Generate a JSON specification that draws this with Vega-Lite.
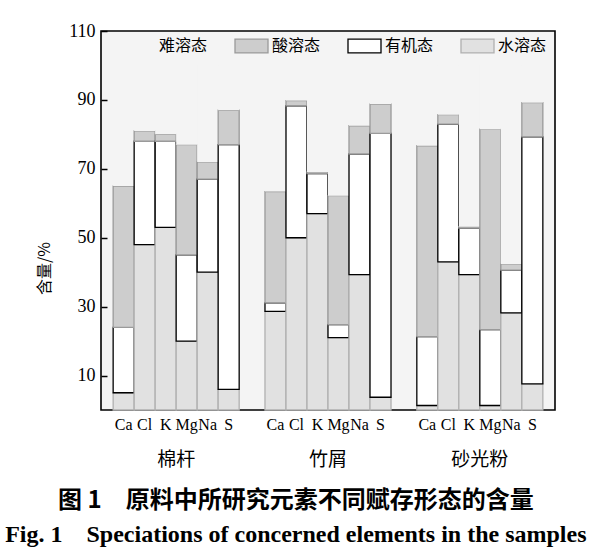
{
  "$schema": "https://vega.github.io/schema/vega-lite/v6.json",
  "width": 454,
  "height": 379,
  "autosize": "none",
  "padding": {"left": 101, "top": 31, "right": 45, "bottom": 149},
  "background": "white",
  "config": {
    "view": {"stroke": "black", "strokeWidth": 1.6, "fill": "#f4f4f4"},
    "axis": {"grid": false, "labelColor": "black", "titleColor": "black"}
  },
  "title": {
    "text": "图 1\u2003原料中所研究元素不同赋存形态的含量",
    "subtitle": "Fig. 1\u2003Speciations of concerned elements in the samples",
    "orient": "bottom",
    "anchor": "middle",
    "frame": "bounds",
    "offset": 20,
    "font": "Noto Sans CJK SC",
    "fontSize": 24,
    "fontWeight": "bold",
    "color": "black",
    "subtitleFont": "Liberation Serif",
    "subtitleFontSize": 24,
    "subtitleFontWeight": "bold",
    "subtitleColor": "black",
    "subtitlePadding": 10
  },
  "data": {
    "values": [
      {"sample": "棉杆", "element": "Ca", "form": "水溶态", "value": 5},
      {"sample": "棉杆", "element": "Ca", "form": "有机态", "value": 19},
      {"sample": "棉杆", "element": "Ca", "form": "酸溶态", "value": 41},
      {"sample": "棉杆", "element": "Ca", "form": "难溶态", "value": 35},
      {"sample": "棉杆", "element": "Cl", "form": "水溶态", "value": 48},
      {"sample": "棉杆", "element": "Cl", "form": "有机态", "value": 30},
      {"sample": "棉杆", "element": "Cl", "form": "酸溶态", "value": 3},
      {"sample": "棉杆", "element": "Cl", "form": "难溶态", "value": 19},
      {"sample": "棉杆", "element": "K", "form": "水溶态", "value": 53},
      {"sample": "棉杆", "element": "K", "form": "有机态", "value": 25},
      {"sample": "棉杆", "element": "K", "form": "酸溶态", "value": 2},
      {"sample": "棉杆", "element": "K", "form": "难溶态", "value": 20},
      {"sample": "棉杆", "element": "Mg", "form": "水溶态", "value": 20},
      {"sample": "棉杆", "element": "Mg", "form": "有机态", "value": 25},
      {"sample": "棉杆", "element": "Mg", "form": "酸溶态", "value": 32},
      {"sample": "棉杆", "element": "Mg", "form": "难溶态", "value": 23},
      {"sample": "棉杆", "element": "Na", "form": "水溶态", "value": 40},
      {"sample": "棉杆", "element": "Na", "form": "有机态", "value": 27},
      {"sample": "棉杆", "element": "Na", "form": "酸溶态", "value": 5},
      {"sample": "棉杆", "element": "Na", "form": "难溶态", "value": 28},
      {"sample": "棉杆", "element": "S", "form": "水溶态", "value": 6},
      {"sample": "棉杆", "element": "S", "form": "有机态", "value": 71},
      {"sample": "棉杆", "element": "S", "form": "酸溶态", "value": 10},
      {"sample": "棉杆", "element": "S", "form": "难溶态", "value": 13},
      {"sample": "竹屑", "element": "Ca", "form": "水溶态", "value": 28.6},
      {"sample": "竹屑", "element": "Ca", "form": "有机态", "value": 2.5},
      {"sample": "竹屑", "element": "Ca", "form": "酸溶态", "value": 32.3},
      {"sample": "竹屑", "element": "Ca", "form": "难溶态", "value": 36.6},
      {"sample": "竹屑", "element": "Cl", "form": "水溶态", "value": 50},
      {"sample": "竹屑", "element": "Cl", "form": "有机态", "value": 38.3},
      {"sample": "竹屑", "element": "Cl", "form": "酸溶态", "value": 1.5},
      {"sample": "竹屑", "element": "Cl", "form": "难溶态", "value": 10.2},
      {"sample": "竹屑", "element": "K", "form": "水溶态", "value": 57},
      {"sample": "竹屑", "element": "K", "form": "有机态", "value": 11.6},
      {"sample": "竹屑", "element": "K", "form": "酸溶态", "value": 0.5},
      {"sample": "竹屑", "element": "K", "form": "难溶态", "value": 30.9},
      {"sample": "竹屑", "element": "Mg", "form": "水溶态", "value": 21},
      {"sample": "竹屑", "element": "Mg", "form": "有机态", "value": 3.8},
      {"sample": "竹屑", "element": "Mg", "form": "酸溶态", "value": 37.4},
      {"sample": "竹屑", "element": "Mg", "form": "难溶态", "value": 37.8},
      {"sample": "竹屑", "element": "Na", "form": "水溶态", "value": 39.3},
      {"sample": "竹屑", "element": "Na", "form": "有机态", "value": 35},
      {"sample": "竹屑", "element": "Na", "form": "酸溶态", "value": 8.2},
      {"sample": "竹屑", "element": "Na", "form": "难溶态", "value": 17.5},
      {"sample": "竹屑", "element": "S", "form": "水溶态", "value": 3.7},
      {"sample": "竹屑", "element": "S", "form": "有机态", "value": 76.6},
      {"sample": "竹屑", "element": "S", "form": "酸溶态", "value": 8.5},
      {"sample": "竹屑", "element": "S", "form": "难溶态", "value": 11.2},
      {"sample": "砂光粉", "element": "Ca", "form": "水溶态", "value": 1.3},
      {"sample": "砂光粉", "element": "Ca", "form": "有机态", "value": 20},
      {"sample": "砂光粉", "element": "Ca", "form": "酸溶态", "value": 55.4},
      {"sample": "砂光粉", "element": "Ca", "form": "难溶态", "value": 23.3},
      {"sample": "砂光粉", "element": "Cl", "form": "水溶态", "value": 43},
      {"sample": "砂光粉", "element": "Cl", "form": "有机态", "value": 40},
      {"sample": "砂光粉", "element": "Cl", "form": "酸溶态", "value": 2.7},
      {"sample": "砂光粉", "element": "Cl", "form": "难溶态", "value": 14.3},
      {"sample": "砂光粉", "element": "K", "form": "水溶态", "value": 39.3},
      {"sample": "砂光粉", "element": "K", "form": "有机态", "value": 13.5},
      {"sample": "砂光粉", "element": "K", "form": "酸溶态", "value": 0.4},
      {"sample": "砂光粉", "element": "K", "form": "难溶态", "value": 46.8},
      {"sample": "砂光粉", "element": "Mg", "form": "水溶态", "value": 1.3},
      {"sample": "砂光粉", "element": "Mg", "form": "有机态", "value": 22},
      {"sample": "砂光粉", "element": "Mg", "form": "酸溶态", "value": 58.2},
      {"sample": "砂光粉", "element": "Mg", "form": "难溶态", "value": 18.5},
      {"sample": "砂光粉", "element": "Na", "form": "水溶态", "value": 28.2},
      {"sample": "砂光粉", "element": "Na", "form": "有机态", "value": 12.4},
      {"sample": "砂光粉", "element": "Na", "form": "酸溶态", "value": 1.8},
      {"sample": "砂光粉", "element": "Na", "form": "难溶态", "value": 57.6},
      {"sample": "砂光粉", "element": "S", "form": "水溶态", "value": 7.6},
      {"sample": "砂光粉", "element": "S", "form": "有机态", "value": 71.7},
      {"sample": "砂光粉", "element": "S", "form": "酸溶态", "value": 9.9},
      {"sample": "砂光粉", "element": "S", "form": "难溶态", "value": 10.8}
    ]
  },
  "transform": [
    {"calculate": "indexof(['水溶态','有机态','酸溶态','难溶态'], datum.form)", "as": "stackOrder"}
  ],
  "encoding": {
    "x": {
      "field": "sample",
      "type": "nominal",
      "sort": ["棉杆", "竹屑", "砂光粉"],
      "scale": {"paddingInner": 0.17, "paddingOuter": 0.08},
      "axis": {
        "title": null,
        "domain": false,
        "ticks": false,
        "labelAngle": 0,
        "labelPadding": 40,
        "labelFont": "Noto Sans CJK SC",
        "labelFontSize": 19
      }
    },
    "xOffset": {
      "field": "element",
      "type": "nominal",
      "sort": ["Ca", "Cl", "K", "Mg", "Na", "S"],
      "scale": {"paddingInner": 0, "paddingOuter": 0}
    }
  },
  "layer": [
    {
      "mark": {"type": "bar", "strokeWidth": 1.3},
      "encoding": {
        "y": {
          "field": "value",
          "type": "quantitative",
          "stack": "zero",
          "scale": {"domain": [0, 110], "nice": false},
          "axis": {
            "values": [10, 20, 30, 40, 50, 60, 70, 80, 90, 100, 110],
            "labelExpr": "datum.value % 20 == 10 ? datum.label : ''",
            "domain": false,
            "tickSize": -6,
            "tickWidth": 1.5,
            "tickColor": "black",
            "labelPadding": 12,
            "labelFont": "Liberation Serif",
            "labelFontSize": 18,
            "title": "含量/%",
            "titleFont": "Noto Sans CJK SC",
            "titleFontSize": 16,
            "titleFontWeight": "normal",
            "titlePadding": 16,
            "titleY": 237
          }
        },
        "fill": {
          "field": "form",
          "type": "nominal",
          "scale": {
            "domain": ["难溶态", "酸溶态", "有机态", "水溶态"],
            "range": ["#f4f4f4", "#cdcdcd", "#ffffff", "#e1e1e1"]
          },
          "legend": {
            "title": null,
            "orient": "none",
            "direction": "horizontal",
            "columns": 4,
            "legendX": 20,
            "legendY": -3,
            "symbolType": "M-1,-0.42H1V0.42H-1Z",
            "symbolSize": 1089,
            "symbolStrokeWidth": 1.3,
            "labelFont": "Noto Sans CJK SC",
            "labelFontSize": 16,
            "labelColor": "black",
            "labelOffset": 3,
            "columnPadding": 24
          }
        },
        "stroke": {
          "field": "form",
          "type": "nominal",
          "scale": {
            "domain": ["难溶态", "酸溶态", "有机态", "水溶态"],
            "range": ["rgba(0,0,0,0)", "#9a9a9a", "#000000", "#b0b0b0"]
          }
        },
        "order": {"field": "stackOrder", "type": "quantitative"}
      }
    },
    {
      "transform": [{"filter": "datum.form === '有机态'"}],
      "mark": {"type": "text", "font": "Liberation Serif", "fontSize": 16, "baseline": "top", "color": "black"},
      "encoding": {
        "y": {"datum": -2},
        "text": {"field": "element"}
      }
    }
  ]
}
